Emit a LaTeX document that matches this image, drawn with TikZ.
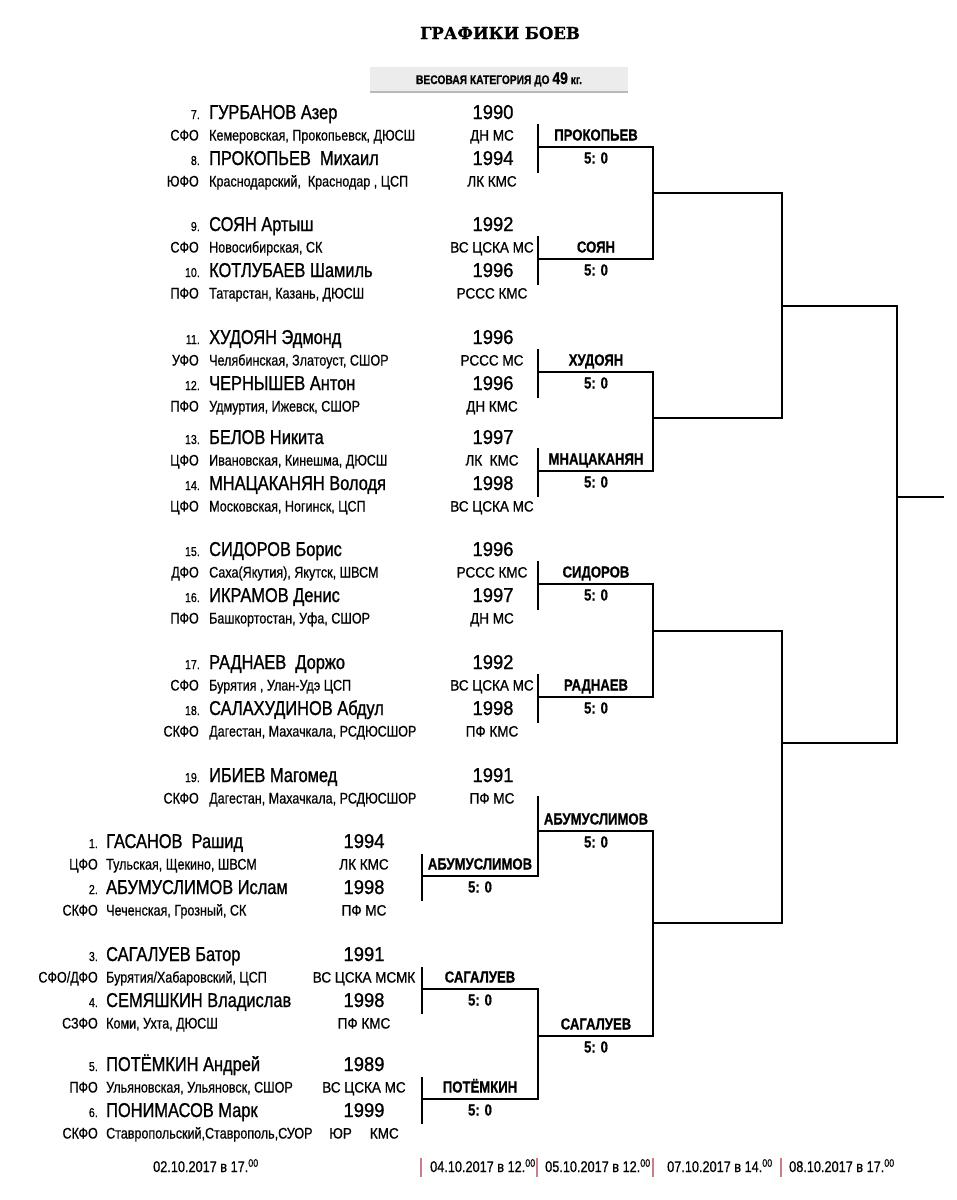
\documentclass[tikz,border=0pt]{standalone}
\usepackage{fontspec}
\setmainfont{Liberation Sans}
\newfontfamily\narrowfont{Liberation Sans}[FakeStretch=0.82,FakeBold=0.6]
\newfontfamily\namefont{Liberation Sans}[FakeStretch=0.82,FakeBold=1]
\newfontfamily\yearfont{Liberation Sans}[FakeStretch=0.92,FakeBold=1]
\newfontfamily\rankfont{Liberation Sans}[FakeStretch=0.9,FakeBold=0.8]
\newfontfamily\headfont{DejaVu Serif}[FakeBold=1]
\definecolor{datebar}{RGB}{205,125,135}
\definecolor{bannerfill}{RGB}{236,236,236}
\tikzset{
  bracket/.style={line width=1.3pt,line cap=rect},
  head/.style={font=\headfont\bfseries\fontsize{16.5}{18}\selectfont},
  cat/.style={font=\narrowfont\bfseries\fontsize{12.5}{14}\selectfont,anchor=base},
  num/.style={font=\narrowfont\fontsize{13}{14}\selectfont,anchor=base east,inner sep=0pt},
  fname/.style={font=\namefont\fontsize{20}{24}\selectfont,anchor=base west,inner sep=0pt},
  yr/.style={font=\yearfont\fontsize{20}{24}\selectfont,anchor=base,inner sep=0pt},
  code/.style={font=\narrowfont\fontsize{15.3}{18}\selectfont,anchor=base east,inner sep=0pt},
  reg/.style={font=\narrowfont\fontsize{15.3}{18}\selectfont,anchor=base west,inner sep=0pt},
  rank/.style={font=\rankfont\fontsize{15}{18}\selectfont,anchor=base,inner sep=0pt},
  win/.style={font=\narrowfont\bfseries\fontsize{16}{18}\selectfont,anchor=base,inner sep=0pt},
  score/.style={font=\narrowfont\bfseries\fontsize{16}{18}\selectfont,anchor=base,inner sep=0pt},
  date/.style={font=\narrowfont\fontsize{15.5}{18}\selectfont,anchor=base west,inner sep=0pt},
  datebarline/.style={datebar,line width=2pt}
}
\begin{document}
\begin{tikzpicture}[x=1pt,y=-1pt]
  \useasboundingbox (0,0) rectangle (957,1200);
  \fill[white] (0,0) rectangle (957,1200);
  % heading
  \node[head] (title) at (500,33) {ГРАФИКИ БОЕВ};
  \fill[bannerfill] (370,67) rectangle (628,92);
  \draw[gray!55,line width=1.5pt] (370,92) -- (628,92);
  \node[cat] (weight) at (499,84) {ВЕСОВАЯ КАТЕГОРИЯ ДО {\fontsize{17}{18}\selectfont 49} кг.};
  % upper list
  \foreach \y/\n/\nm/\yr/\cd/\rg/\rk in {
      112/7/{ГУРБАНОВ Азер}/1990/СФО/{Кемеровская, Прокопьевск, ДЮСШ}/{ДН МС},
      158/8/{ПРОКОПЬЕВ\ \ Михаил}/1994/ЮФО/{Краснодарский,\ \ Краснодар , ЦСП}/{ЛК КМС},
      224/9/{СОЯН Артыш}/1992/СФО/{Новосибирская, СК}/{ВС ЦСКА МС},
      270/10/{КОТЛУБАЕВ Шамиль}/1996/ПФО/{Татарстан, Казань, ДЮСШ}/{РССС КМС},
      337/11/{ХУДОЯН Эдмонд}/1996/УФО/{Челябинская, Златоуст, СШОР}/{РССС МС},
      383/12/{ЧЕРНЫШЕВ Антон}/1996/ПФО/{Удмуртия, Ижевск, СШОР}/{ДН КМС},
      437/13/{БЕЛОВ Никита}/1997/ЦФО/{Ивановская, Кинешма, ДЮСШ}/{ЛК\ \ КМС},
      483/14/{МНАЦАКАНЯН Володя}/1998/ЦФО/{Московская, Ногинск, ЦСП}/{ВС ЦСКА МС},
      549/15/{СИДОРОВ Борис}/1996/ДФО/{Саха(Якутия), Якутск, ШВСМ}/{РССС КМС},
      595/16/{ИКРАМОВ Денис}/1997/ПФО/{Башкортостан, Уфа, СШОР}/{ДН МС},
      662/17/{РАДНАЕВ\ \ Доржо}/1992/СФО/{Бурятия , Улан-Удэ ЦСП}/{ВС ЦСКА МС},
      708/18/{САЛАХУДИНОВ Абдул}/1998/СКФО/{Дагестан, Махачкала, РСДЮСШОР}/{ПФ КМС},
      775/19/{ИБИЕВ Магомед}/1991/СКФО/{Дагестан, Махачкала, РСДЮСШОР}/{ПФ МС}}{
    \node[num] (num\n) at (200,\y+7) {\n.};
    \node[fname] (name\n) at (209,\y+7) {\nm};
    \node[yr] (year\n) at (493,\y+7) {\yr};
    \node[code] (code\n) at (199,\y+28.5) {\cd};
    \node[reg] (reg\n) at (209,\y+28.5) {\rg};
    \node[rank] (rank\n) at (492,\y+28.5) {\rk};
  }
  % lower list
  \foreach \y/\n/\nm/\yr/\cd/\rg/\rk in {
      841/1/{ГАСАНОВ\ \ Рашид}/1994/ЦФО/{Тульская, Щекино, ШВСМ}/{ЛК КМС},
      887/2/{АБУМУСЛИМОВ Ислам}/1998/СКФО/{Чеченская, Грозный, СК}/{ПФ МС},
      954/3/{САГАЛУЕВ Батор}/1991/{СФО/ДФО}/{Бурятия/Хабаровский, ЦСП}/{ВС ЦСКА МСМК},
      1000/4/{СЕМЯШКИН Владислав}/1998/СЗФО/{Коми, Ухта, ДЮСШ}/{ПФ КМС},
      1064/5/{ПОТЁМКИН Андрей}/1989/ПФО/{Ульяновская, Ульяновск, СШОР}/{ВС ЦСКА МС},
      1110/6/{ПОНИМАСОВ Марк}/1999/СКФО/{Ставропольский,Ставрополь,СУОР}/{ЮР\hspace{18pt}КМС}}{
    \node[num] (num\n) at (98,\y+7) {\n.};
    \node[fname] (name\n) at (106,\y+7) {\nm};
    \node[yr] (year\n) at (364,\y+7) {\yr};
    \node[code] (code\n) at (98,\y+28.5) {\cd};
    \node[reg] (reg\n) at (106,\y+28.5) {\rg};
    \node[rank] (rank\n) at (364,\y+28.5) {\rk};
  }
  % first round, upper
  \foreach \y/\w in {147/ПРОКОПЬЕВ,259/СОЯН,372/ХУДОЯН,471/МНАЦАКАНЯН,584/СИДОРОВ,697/РАДНАЕВ}{
    \coordinate (top\y) at (538,\y-22);
    \coordinate (bot\y) at (538,\y+25);
    \coordinate (in\y) at (538,\y);
    \coordinate (out\y) at (653,\y);
    \draw[bracket] (top\y) -- (bot\y);
    \draw[bracket] (in\y) -- (out\y);
    \node[win] (win\y) at (596,\y-6.5) {\w};
    \node[score] (score\y) at (596,\y+16.5) {5: 0};
  }
  % first round, lower
  \foreach \y/\w in {876/АБУМУСЛИМОВ,989/САГАЛУЕВ,1099/ПОТЁМКИН}{
    \coordinate (top\y) at (422,\y-21);
    \coordinate (bot\y) at (422,\y+24);
    \coordinate (in\y) at (422,\y);
    \coordinate (out\y) at (538,\y);
    \draw[bracket] (top\y) -- (bot\y);
    \draw[bracket] (in\y) -- (out\y);
    \node[win] (win\y) at (480,\y-6.5) {\w};
    \node[score] (score\y) at (480,\y+16.5) {5: 0};
  }
  % second round
  \coordinate (bye) at (538,797);
  \coordinate (in831) at (538,831);
  \coordinate (out831) at (653,831);
  \coordinate (in1036) at (538,1036);
  \coordinate (out1036) at (653,1036);
  \draw[bracket] (bye) -- (out876);
  \draw[bracket] (out989) -- (out1099);
  \draw[bracket] (in831) -- (out831);
  \draw[bracket] (in1036) -- (out1036);
  \node[win] (win831) at (596,824.5) {АБУМУСЛИМОВ};
  \node[score] (score831) at (596,847.5) {5: 0};
  \node[win] (win1036) at (596,1029.5) {САГАЛУЕВ};
  \node[score] (score1036) at (596,1052.5) {5: 0};
  \coordinate (q1) at (653,193);  \coordinate (h1) at (782,193);
  \coordinate (q2) at (653,418);  \coordinate (h2) at (782,418);
  \coordinate (q3) at (653,631);  \coordinate (h3) at (782,631);
  \coordinate (q4) at (653,923);  \coordinate (h4) at (782,923);
  \draw[bracket] (out147) -- (out259);
  \draw[bracket] (out372) -- (out471);
  \draw[bracket] (out584) -- (out697);
  \draw[bracket] (out831) -- (out1036);
  \draw[bracket] (q1) -- (h1);
  \draw[bracket] (q2) -- (h2);
  \draw[bracket] (q3) -- (h3);
  \draw[bracket] (q4) -- (h4);
  % semifinals and final
  \coordinate (s1) at (782,306);  \coordinate (f1) at (897,306);
  \coordinate (s2) at (782,743);  \coordinate (f2) at (897,743);
  \coordinate (fin) at (897,497); \coordinate (champ) at (943,497);
  \draw[bracket] (h1) -- (h2);
  \draw[bracket] (h3) -- (h4);
  \draw[bracket] (s1) -- (f1);
  \draw[bracket] (s2) -- (f2);
  \draw[bracket] (f1) -- (f2);
  \draw[bracket] (fin) -- (champ);
  % dates
  \node[date] (d1) at (153,1172) {02.10.2017 в 17.\textsuperscript{00}};
  \foreach \x/\d/\t in {430/2/04.10.2017 в 12.,545/3/05.10.2017 в 12.,667/4/07.10.2017 в 14.,789/5/08.10.2017 в 17.}
    \node[date] (d\d) at (\x,1172) {\t\textsuperscript{00}};
  \foreach \x in {421,537,653,781}
    \draw[datebarline] (\x,1158) -- (\x,1177);
\end{tikzpicture}
\end{document}
